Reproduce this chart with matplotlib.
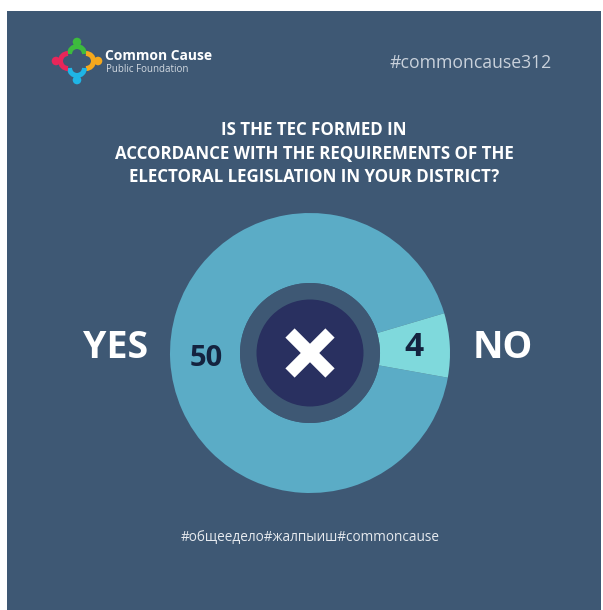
import matplotlib
matplotlib.use("Agg")
from matplotlib import pyplot as plt
from matplotlib.patches import Rectangle, Circle, Arc

# Survey answers
labels = ["YES", "NO"]
values = [50, 4]

title = ("IS THE TEC FORMED IN\n"
         "ACCORDANCE WITH THE REQUIREMENTS OF THE\n"
         "ELECTORAL LEGISLATION IN YOUR DISTRICT?")
tag_top = "#commoncause312"
tag_bottom = "#общеедело#жалпыиш#commoncause"
brand = "Common Cause"
brand_sub = "Public Foundation"

BG = "#3e5874"
WEDGE_COLORS = ["#5bacc6", "#7fd9dc"]
NAVY = "#293060"
LABEL_DARK = "#14233f"

plt.rcParams['font.family'] = ['Open Sans', 'DejaVu Sans']

W, H = 603, 610
fig = plt.figure(figsize=(W / 100, H / 100), dpi=100)
fig.patch.set_facecolor("white")
ax = fig.add_axes([0, 0, 1, 1])


def Y(y):
    # pixel rows counted from the top
    return H - y


# panel
ax.add_patch(Rectangle((7, 0), 594, Y(11), facecolor=BG, edgecolor="none", zorder=0))

# donut
cx, cy = 310, Y(353)
R = 140
wedges, texts, autotexts = ax.pie(
    values, colors=WEDGE_COLORS, startangle=16.5, counterclock=True,
    center=(cx, cy), radius=R, wedgeprops=dict(width=70, linewidth=0),
    autopct=lambda p: "{:d}".format(int(round(p * sum(values) / 100))),
    pctdistance=104 / R, frame=True)
for t, fs in zip(autotexts, [21, 24]):
    t.set_fontsize(fs)
    t.set_fontweight("bold")
    t.set_color(LABEL_DARK)

ax.add_patch(Circle((cx, cy), 70, facecolor=BG, edgecolor="none", zorder=3))
ax.add_patch(Circle((cx, cy), 53.5, facecolor=NAVY, edgecolor="none", zorder=4))
d = 20
for sx in (-1, 1):
    ax.plot([cx - d, cx + d], [cy - sx * d, cy + sx * d], color="white",
            linewidth=9.4, solid_capstyle="butt", zorder=5)

# answer names either side of the ring
ax.text(116, Y(348), labels[0], color="white", fontsize=27, fontweight="bold",
        ha="center", va="center")
ax.text(503, Y(348), labels[1], color="white", fontsize=27, fontweight="bold",
        ha="center", va="center")

# question
ax.text(314, Y(153.5), title, color="white", fontsize=12.2, fontweight="bold",
        ha="center", va="center", linespacing=1.36)

# hashtags
ax.text(471, Y(63), tag_top, color="#c9d1db", fontsize=12.7,
        ha="center", va="center")
ax.text(310, Y(538), tag_bottom, color="#e6eaef", fontsize=9.8,
        ha="center", va="center")

# logo
lx, ly = 77, Y(61)
logo = [
    ("#3dbb3d", (0, 7), (0, 19), 0, 180),
    ("#f5a81c", (9, 0), (21, 0), -90, 90),
    ("#1fb5e6", (0, -7), (0, -19), 180, 360),
    ("#e8265a", (-9, 0), (-21, 0), 90, 270),
]
for col, (ax_, ay_), (hx, hy), t1, t2 in logo:
    ax.add_patch(Arc((lx + ax_, ly + ay_), 15, 15, theta1=t1, theta2=t2,
                     color=col, linewidth=3.6, zorder=6))
    ax.add_patch(Circle((lx + hx, ly + hy), 4.3, facecolor=col,
                        edgecolor="none", zorder=6))
ax.text(105, Y(56), brand, color="white", fontsize=10, fontweight="bold",
        ha="left", va="center")
ax.text(106, Y(69.5), brand_sub, color="#d3dae2", fontsize=7,
        ha="left", va="center")

ax.set_xlim(0, W)
ax.set_ylim(0, H)
ax.set_aspect("equal")
ax.axis("off")

fig.savefig("out.png", dpi=100, facecolor=fig.get_facecolor())
